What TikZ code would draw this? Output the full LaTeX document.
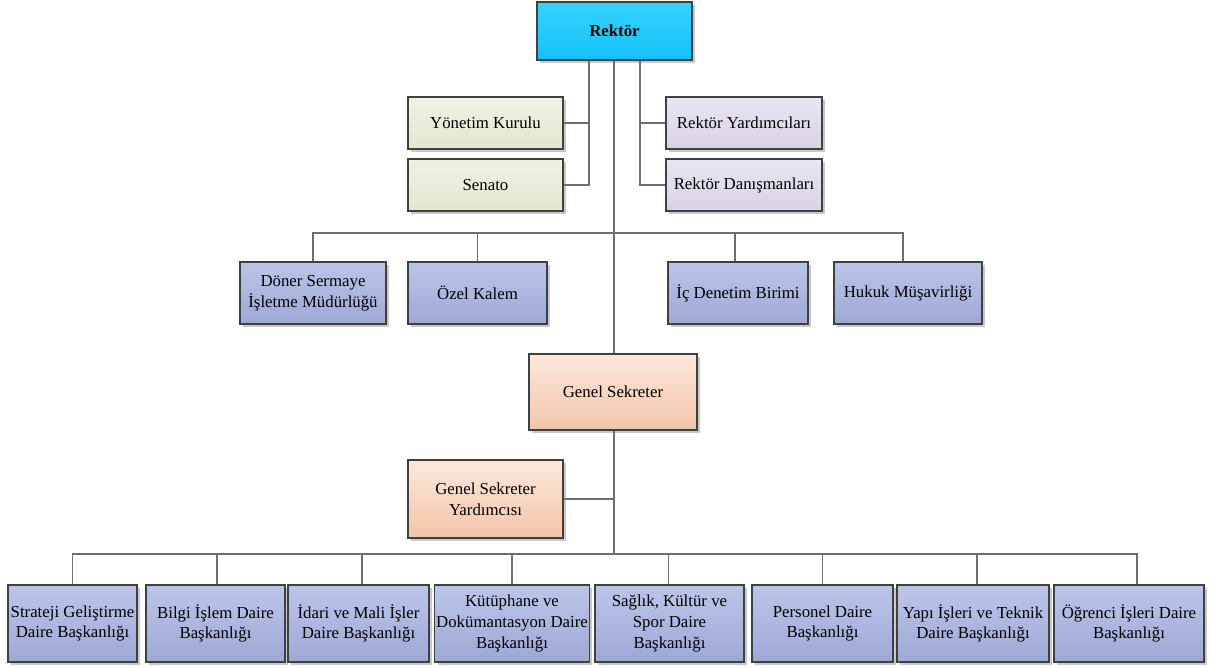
\documentclass[tikz,border=0pt]{standalone}
\usepackage{fontspec}
\setmainfont{Liberation Serif}
\usetikzlibrary{shadows}
\definecolor{linegray}{HTML}{6E6E6E}
\definecolor{boxborder}{HTML}{404040}
\definecolor{cyanTop}{HTML}{36D2FF}
\definecolor{cyanBot}{HTML}{14C2F5}
\definecolor{greenTop}{HTML}{EFF2E4}
\definecolor{greenBot}{HTML}{E2E7CF}
\definecolor{lavTop}{HTML}{E9E5F1}
\definecolor{lavBot}{HTML}{D9D2E6}
\definecolor{blueTop}{HTML}{BCC5E8}
\definecolor{blueBot}{HTML}{9EA8D6}
\definecolor{peachTop}{HTML}{FCE8DB}
\definecolor{peachBot}{HTML}{F3C5AA}
\tikzset{
  orgbox/.style={draw=boxborder, line width=0.8pt, align=center, inner sep=1pt,
    font=\fontsize{12.6pt}{15.5pt}\selectfont,
    drop shadow={shadow xshift=2pt, shadow yshift=-2pt, fill=black!30, opacity=0.7}},
  cyanbox/.style={orgbox, top color=cyanTop, bottom color=cyanBot},
  greenbox/.style={orgbox, top color=greenTop, bottom color=greenBot},
  lavbox/.style={orgbox, top color=lavTop, bottom color=lavBot},
  bluebox/.style={orgbox, top color=blueTop, bottom color=blueBot},
  peachbox/.style={orgbox, top color=peachTop, bottom color=peachBot},
  conn/.style={draw=linegray, line width=0.8pt}
}
\begin{document}
\begin{tikzpicture}[x=0.75pt, y=-0.75pt]
\useasboundingbox (0,0) rectangle (1211,668);

% top level
\node[cyanbox, minimum width=116.25pt, minimum height=43.5pt] (rektor) at (614.5,31) {\textbf{Rektör}};
\node[greenbox, minimum width=116.25pt, minimum height=39pt] (yk) at (485.5,123) {Yönetim Kurulu};
\node[greenbox, minimum width=116.25pt, minimum height=39pt] (senato) at (485.5,185) {Senato};
\node[lavbox, minimum width=117pt, minimum height=39pt] (ry) at (744,123) {Rektör Yardımcıları};
\node[lavbox, minimum width=117pt, minimum height=39pt] (rd) at (744,185) {Rektör Danışmanları};

% second level
\node[bluebox, minimum width=109.5pt, minimum height=46.5pt] (doner) at (313,293) {Döner Sermaye\\İşletme Müdürlüğü};
\node[bluebox, minimum width=104.25pt, minimum height=46.5pt] (ozel) at (477.5,293) {Özel Kalem};
\node[bluebox, minimum width=105pt, minimum height=46.5pt] (ic) at (738,293) {İç Denetim Birimi};
\node[bluebox, minimum width=111pt, minimum height=46.5pt] (hukuk) at (908,293) {Hukuk Müşavirliği};

% genel sekreter
\node[peachbox, minimum width=126pt, minimum height=57pt] (gs) at (613,392) {Genel Sekreter};
\node[peachbox, minimum width=116.25pt, minimum height=58.5pt] (gsy) at (485.5,499) {Genel Sekreter\\Yardımcısı};

% bottom row
\node[bluebox, minimum width=96.75pt, minimum height=57.75pt] (b1) at (72.5,623.5) {Strateji Geliştirme\\Daire Başkanlığı};
\node[bluebox, minimum width=104.25pt, minimum height=57.75pt] (b2) at (215.5,623.5) {Bilgi İşlem Daire\\Başkanlığı};
\node[bluebox, minimum width=105.75pt, minimum height=57.75pt] (b3) at (358.5,623.5) {İdari ve Mali İşler\\Daire Başkanlığı};
\node[bluebox, minimum width=115.5pt, minimum height=57.75pt] (b4) at (512,623.5) {Kütüphane ve\\Dokümantasyon Daire\\Başkanlığı};
\node[bluebox, minimum width=111.75pt, minimum height=57.75pt] (b5) at (669.5,623.5) {Sağlık, Kültür ve\\Spor Daire\\Başkanlığı};
\node[bluebox, minimum width=105.75pt, minimum height=57.75pt] (b6) at (822.5,623.5) {Personel Daire\\Başkanlığı};
\node[bluebox, minimum width=114pt, minimum height=57.75pt] (b7) at (973,623.5) {Yapı İşleri ve Teknik\\Daire Başkanlığı};
\node[bluebox, minimum width=112.5pt, minimum height=57.75pt] (b8) at (1129,623.5) {Öğrenci İşleri Daire\\Başkanlığı};

% coordinates
\coordinate (lt) at (589,185);
\coordinate (rt) at (640,185);
\coordinate (mb) at (614,233);
\coordinate (bus) at (614,554);

% connectors
\begin{scope}[on background layer/.style={}]
\path[conn] (lt |- rektor.south) -- (lt) -- (senato.east);
\path[conn] (yk.east) -- (yk.east -| lt);
\path[conn] (rt |- rektor.south) -- (rt) -- (rd.west);
\path[conn] (ry.west) -- (ry.west -| rt);
\path[conn] (mb |- rektor.south) -- (mb |- gs.north);
\path[conn] (doner.north) -- (doner.north |- mb) -- ([xshift=-3.75pt]hukuk.north |- mb) -- ([xshift=-3.75pt]hukuk.north);
\path[conn] (ozel.north) -- (ozel.north |- mb);
\path[conn] ([xshift=-2.25pt]ic.north) -- ([xshift=-2.25pt]ic.north |- mb);
\path[conn] (bus |- gs.south) -- (bus);
\path[conn] (gsy.east) -- (gsy.east -| bus);
\path[conn] (b1.north) -- (b1.north |- bus) -- ([xshift=6pt]b8.north |- bus) -- ([xshift=6pt]b8.north);
\path[conn] ([xshift=1.1pt]b2.north) -- ([xshift=1.1pt]b2.north |- bus);
\path[conn] ([xshift=2.6pt]b3.north) -- ([xshift=2.6pt]b3.north |- bus);
\path[conn] (b4.north) -- (b4.north |- bus);
\path[conn] ([xshift=-1.1pt]b5.north) -- ([xshift=-1.1pt]b5.north |- bus);
\path[conn] (b6.north) -- (b6.north |- bus);
\path[conn] ([xshift=3pt]b7.north) -- ([xshift=3pt]b7.north |- bus);
\end{scope}
\end{tikzpicture}
\end{document}
